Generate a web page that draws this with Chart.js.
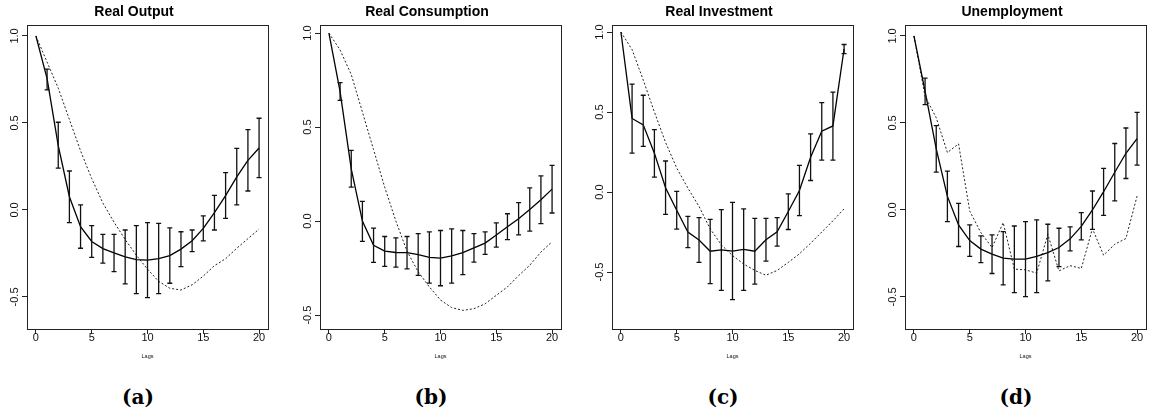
<!DOCTYPE html>
<html lang="en">
<head>
<meta charset="UTF-8">
<title>Autocorrelations by lag</title>
<style>
    html, body { margin: 0; padding: 0; background: #fff; width: 1151px; height: 414px; overflow: hidden; }
    canvas { position: absolute; top: 0; }
    .sub { position: absolute; top: 385px; width: 80px; margin-left: -40px; text-align: center;
           font: bold 20px "DejaVu Serif", serif; color: #000; }
</style>
</head>
<body>
    <canvas id="c0" width="295" height="370"></canvas>
    <canvas id="c1" width="295" height="370"></canvas>
    <canvas id="c2" width="295" height="370"></canvas>
    <canvas id="c3" width="295" height="370"></canvas>
    <div class="sub" style="left:138px">(a)</div>
    <div class="sub" style="left:431px">(b)</div>
    <div class="sub" style="left:723px">(c)</div>
    <div class="sub" style="left:1016px">(d)</div>
<script src="https://cdn.jsdelivr.net/npm/chart.js"></script>
<script>
    const lags = [0,1,2,3,4,5,6,7,8,9,10,11,12,13,14,15,16,17,18,19,20];
    const xTicks = [0, 5, 10, 15, 20];
    const yTicks = [-0.5, 0, 0.5, 1];
    const titles = ['Real Output', 'Real Consumption', 'Real Investment', 'Unemployment'];

    // solid line (model) with error bars, dotted line (comparison)
    const outputFit = [1.0, 0.755, 0.37, 0.076, -0.096, -0.181, -0.222, -0.247, -0.27, -0.285, -0.288, -0.279, -0.262, -0.225, -0.177, -0.106, -0.015, 0.083, 0.19, 0.285, 0.356];
    const outputLo  = [null, 0.69, 0.24, -0.073, -0.22, -0.272, -0.305, -0.354, -0.425, -0.481, -0.504, -0.481, -0.421, -0.326, -0.239, -0.178, -0.115, -0.048, 0.029, 0.109, 0.186];
    const outputHi  = [null, 0.81, 0.504, 0.224, 0.029, -0.09, -0.14, -0.14, -0.115, -0.09, -0.073, -0.077, -0.103, -0.125, -0.115, -0.034, 0.084, 0.215, 0.354, 0.462, 0.527];
    const outputDot = [1.0, 0.85, 0.70, 0.52, 0.34, 0.18, 0.04, -0.07, -0.17, -0.26, -0.34, -0.41, -0.45, -0.46, -0.43, -0.38, -0.32, -0.28, -0.22, -0.165, -0.11];

    const consFit = [1.0, 0.689, 0.278, 0.0, -0.129, -0.16, -0.167, -0.168, -0.178, -0.193, -0.197, -0.185, -0.168, -0.143, -0.117, -0.074, -0.03, 0.012, 0.062, 0.113, 0.17];
    const consLo  = [null, 0.642, 0.181, -0.108, -0.22, -0.241, -0.245, -0.254, -0.289, -0.33, -0.344, -0.33, -0.285, -0.218, -0.177, -0.138, -0.099, -0.073, -0.053, -0.014, 0.043];
    const consHi  = [null, 0.736, 0.376, 0.105, -0.037, -0.082, -0.089, -0.082, -0.067, -0.057, -0.05, -0.041, -0.05, -0.067, -0.057, -0.009, 0.039, 0.098, 0.177, 0.241, 0.296];
    const consDot = [1.0, 0.91, 0.78, 0.58, 0.38, 0.18, 0.0, -0.16, -0.27, -0.35, -0.42, -0.46, -0.475, -0.466, -0.44, -0.395, -0.35, -0.29, -0.235, -0.165, -0.11];

    const invFit = [1.0, 0.46, 0.42, 0.243, 0.027, -0.114, -0.25, -0.3, -0.37, -0.361, -0.369, -0.359, -0.37, -0.298, -0.249, -0.122, 0.01, 0.217, 0.38, 0.413, 0.894];
    const invLo  = [null, 0.243, 0.285, 0.093, -0.139, -0.232, -0.348, -0.439, -0.572, -0.614, -0.673, -0.614, -0.576, -0.432, -0.338, -0.234, -0.148, 0.072, 0.2, 0.2, 0.865];
    const invHi  = [null, 0.675, 0.605, 0.39, 0.194, 0.004, -0.152, -0.16, -0.171, -0.11, -0.065, -0.105, -0.165, -0.165, -0.16, -0.011, 0.167, 0.363, 0.559, 0.624, 0.922];
    const invDot = [1.0, 0.89, 0.70, 0.5, 0.31, 0.15, 0.025, -0.09, -0.23, -0.33, -0.397, -0.45, -0.49, -0.52, -0.49, -0.44, -0.386, -0.32, -0.25, -0.18, -0.105];

    const unempFit = [1.0, 0.681, 0.351, 0.078, -0.086, -0.176, -0.225, -0.254, -0.277, -0.283, -0.283, -0.266, -0.245, -0.216, -0.166, -0.094, 0.0, 0.105, 0.217, 0.326, 0.41];
    const unempLo  = [null, 0.605, 0.218, -0.067, -0.21, -0.267, -0.302, -0.365, -0.431, -0.475, -0.498, -0.475, -0.408, -0.326, -0.235, -0.172, -0.111, -0.031, 0.052, 0.181, 0.258];
    const unempHi  = [null, 0.758, 0.485, 0.223, 0.038, -0.086, -0.149, -0.143, -0.124, -0.092, -0.067, -0.057, -0.082, -0.105, -0.097, -0.015, 0.109, 0.239, 0.382, 0.471, 0.561];
    const unempDot = [1.0, 0.653, 0.53, 0.33, 0.38, -0.006, -0.13, -0.216, -0.073, -0.34, -0.344, -0.363, -0.14, -0.35, -0.32, -0.336, -0.107, -0.26, -0.197, -0.164, 0.08];

    const panels = [
        { fit: outputFit, lo: outputLo, hi: outputHi, dot: outputDot, frameLeft: 27,  yMin: -0.684, yMax: 1.063 },
        { fit: consFit,   lo: consLo,   hi: consHi,   dot: consDot,   frameLeft: 320, yMin: -0.574, yMax: 1.043 },
        { fit: invFit,    lo: invLo,    hi: invHi,    dot: invDot,    frameLeft: 612, yMin: -0.856, yMax: 1.044 },
        { fit: unempFit,  lo: unempLo,  hi: unempHi,  dot: unempDot,  frameLeft: 905, yMin: -0.684, yMax: 1.063 }
    ];

    Chart.defaults.font.family = '"Liberation Sans", Arial, sans-serif';
    Chart.defaults.color = '#111';

    // box around the plot region, like R's box()
    const framePlugin = {
        id: 'frame',
        afterDraw: (chart) => {
            const a = chart.chartArea;
            const ctx = chart.ctx;
            ctx.save();
            ctx.strokeStyle = '#222';
            ctx.lineWidth = 1;
            ctx.strokeRect(Math.round(a.left) + 0.5, Math.round(a.top) + 0.5,
                           Math.round(a.right - a.left), Math.round(a.bottom - a.top));
            ctx.restore();
        }
    };

    // vertical interval bars with short caps
    const errorBarPlugin = {
        id: 'errorBars',
        afterDatasetsDraw: (chart, args, opts) => {
            const xs = chart.scales.x, ys = chart.scales.y;
            const ctx = chart.ctx;
            ctx.save();
            ctx.strokeStyle = '#111';
            ctx.lineWidth = 1.3;
            opts.lo.forEach((lo, i) => {
                const hi = opts.hi[i];
                if (lo === null || hi === null) return;
                const x = xs.getPixelForValue(lags[i]);
                const y1 = ys.getPixelForValue(lo);
                const y2 = ys.getPixelForValue(hi);
                ctx.beginPath();
                ctx.moveTo(x, y1); ctx.lineTo(x, y2);
                ctx.moveTo(x - 2.5, y1); ctx.lineTo(x + 2.5, y1);
                ctx.moveTo(x - 2.5, y2); ctx.lineTo(x + 2.5, y2);
                ctx.stroke();
            });
            ctx.restore();
        }
    };

    // y labels parallel to the axis (rotated), as R draws them
    const yLabelPlugin = {
        id: 'yLabels',
        afterDraw: (chart) => {
            const ys = chart.scales.y;
            const ctx = chart.ctx;
            ctx.save();
            ctx.fillStyle = '#111';
            ctx.font = '11px "Liberation Sans", Arial, sans-serif';
            ctx.textAlign = 'center';
            ctx.textBaseline = 'middle';
            yTicks.forEach(v => {
                const y = ys.getPixelForValue(v);
                ctx.save();
                ctx.translate(chart.chartArea.left - 12, y);
                ctx.rotate(-Math.PI / 2);
                ctx.fillText(v.toFixed(1), 0, 0);
                ctx.restore();
            });
            ctx.restore();
        }
    };

    panels.forEach((p, k) => {
        const canvas = document.getElementById('c' + k);
        canvas.style.left = (p.frameLeft - 27) + 'px';
        new Chart(canvas.getContext('2d'), {
            type: 'line',
            data: {
                labels: lags,
                datasets: [
                    {
                        data: lags.map((l, i) => ({ x: l, y: p.fit[i] })),
                        borderColor: '#000',
                        borderWidth: 1.3,
                        pointRadius: 0,
                        tension: 0,
                        fill: false
                    },
                    {
                        data: lags.map((l, i) => ({ x: l, y: p.dot[i] })),
                        borderColor: '#222',
                        borderWidth: 1,
                        borderDash: [2, 2],
                        pointRadius: 0,
                        tension: 0,
                        fill: false
                    }
                ]
            },
            options: {
                responsive: false,
                animation: false,
                layout: { padding: { left: 0, right: 27, top: 0, bottom: 0 } },
                scales: {
                    x: {
                        type: 'linear',
                        min: -0.8,
                        max: 20.8,
                        afterBuildTicks: s => { s.ticks = xTicks.map(v => ({ value: v })); },
                        afterFit: s => { s.height = 41; },
                        grid: { drawOnChartArea: false, drawTicks: true, tickLength: 5, color: '#222' },
                        border: { display: true, color: '#222' },
                        ticks: { font: { size: 11 }, padding: -3, color: '#111', maxRotation: 0 },
                        title: { display: true, text: 'Lags', font: { size: 5.5 }, padding: { top: 0, bottom: 10 } }
                    },
                    y: {
                        min: p.yMin,
                        max: p.yMax,
                        afterBuildTicks: s => { s.ticks = yTicks.map(v => ({ value: v })); },
                        afterFit: s => { s.width = 27; },
                        grid: { drawOnChartArea: false, drawTicks: true, tickLength: 5, color: '#222' },
                        border: { display: true, color: '#222' },
                        ticks: { display: false }
                    }
                },
                plugins: {
                    legend: { display: false },
                    tooltip: { enabled: false },
                    title: {
                        display: true,
                        text: titles[k],
                        color: '#000',
                        font: { size: 14, weight: 'bold' },
                        padding: { top: 3.3, bottom: 4.9 }
                    },
                    errorBars: { lo: p.lo, hi: p.hi }
                }
            },
            plugins: [framePlugin, errorBarPlugin, yLabelPlugin]
        });
    });
</script>
</body>
</html>
